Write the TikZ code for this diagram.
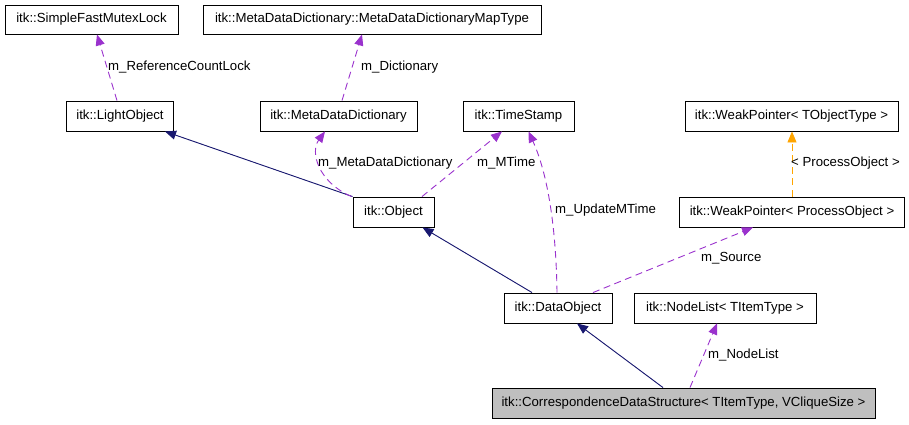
\documentclass[tikz,border=0pt]{standalone}
\usepackage{fontspec}
\setmainfont{Liberation Sans}
\usetikzlibrary{arrows.meta}
\definecolor{navyc}{HTML}{191970}
\definecolor{purplec}{HTML}{9A32CD}
\definecolor{orangec}{HTML}{FFA500}
\definecolor{grayfill}{HTML}{BFBFBF}
\begin{document}
\begin{tikzpicture}[x=1pt,y=-1pt,
  font=\fontsize{13.2}{15}\selectfont,
  cls/.style={draw=black,line width=0.9pt,inner sep=0pt,minimum height=30pt,fill=white},
  inherit/.style={draw=navyc,line width=0.9pt,-{Triangle[length=11pt,width=9pt]},fill=navyc},
  usage/.style={draw=purplec,line width=0.9pt,dash pattern=on 7pt off 4.5pt,-{Triangle[length=11pt,width=9pt,fill=purplec]}},
  tmpl/.style={draw=orangec,line width=0.9pt,dash pattern=on 7pt off 4.5pt,-{Triangle[length=11pt,width=9pt,fill=orangec]}},
  lbl/.style={inner sep=0pt,anchor=west}]
\useasboundingbox (0,0) rectangle (909,424);
% nodes
\node[cls,minimum width=173pt,minimum height=29pt] (mutex) at (91.5,19.5) {itk::SimpleFastMutexLock};
\node[cls,minimum width=338pt,minimum height=29pt] (maptype) at (372,19.5) {itk::MetaDataDictionary::MetaDataDictionaryMapType};
\node[cls,minimum width=107pt] (light) at (120,116) {itk::LightObject};
\node[cls,minimum width=157pt] (mdd) at (338.5,116) {itk::MetaDataDictionary};
\node[cls,minimum width=111pt] (ts) at (518.5,116) {itk::TimeStamp};
\node[cls,minimum width=213pt] (wpT) at (791.5,116) {itk::WeakPointer< TObjectType >};
\node[cls,minimum width=81pt] (obj) at (393.5,212) {itk::Object};
\node[cls,minimum width=225pt] (wpP) at (792,212) {itk::WeakPointer< ProcessObject >};
\node[cls,minimum width=108pt] (dobj) at (558,308) {itk::DataObject};
\node[cls,minimum width=182pt] (nl) at (725,308) {itk::NodeList< TItemType >};
\node[cls,minimum width=383pt,fill=grayfill] (corr) at (683.5,403) {itk::CorrespondenceDataStructure< TItemType, VCliqueSize >};
% inheritance
\draw[inherit] (obj.north west) -- ([xshift=45pt]light.south);
\draw[inherit] ([xshift=-26pt]dobj.north) -- ([xshift=29pt]obj.south);
\draw[inherit] ([xshift=-20.5pt]corr.north) -- ([xshift=19pt]dobj.south);
% usage
\draw[usage] ([xshift=-3pt]light.north) -- ([xshift=5.5pt]mutex.south);
\draw[usage] ([xshift=3.5pt]mdd.north) -- ([xshift=-10pt]maptype.south);
\draw[usage] ([xshift=-1pt]obj.north west) .. controls (318,182) and (310,152) .. ([xshift=-13.5pt]mdd.south);
\draw[usage] ([xshift=28.5pt]obj.north) -- ([xshift=-16.5pt]ts.south);
\draw[usage] ([xshift=-1pt]dobj.north) .. controls (556,220) and (546,170) .. ([xshift=10pt]ts.south);
\draw[usage] ([xshift=35pt]dobj.north) -- ([xshift=-39pt]wpP.south);
\draw[usage] ([xshift=6.5pt]corr.north) -- ([xshift=-8pt]nl.south);
\draw[tmpl] (wpP.north) -- ([xshift=0.5pt]wpT.south);
% labels
\node[lbl] (l1) at (108,67) {m\_ReferenceCountLock};
\node[lbl] (l2) at (361,67) {m\_Dictionary};
\node[lbl] (l3) at (318,163) {m\_MetaDataDictionary};
\node[lbl] (l4) at (477,163) {m\_MTime};
\node[lbl] (l5) at (555,210) {m\_UpdateMTime};
\node[lbl] (l6) at (701,258) {m\_Source};
\node[lbl] (l7) at (791,163) {< ProcessObject >};
\node[lbl] (l8) at (708,355) {m\_NodeList};
\end{tikzpicture}
\end{document}
